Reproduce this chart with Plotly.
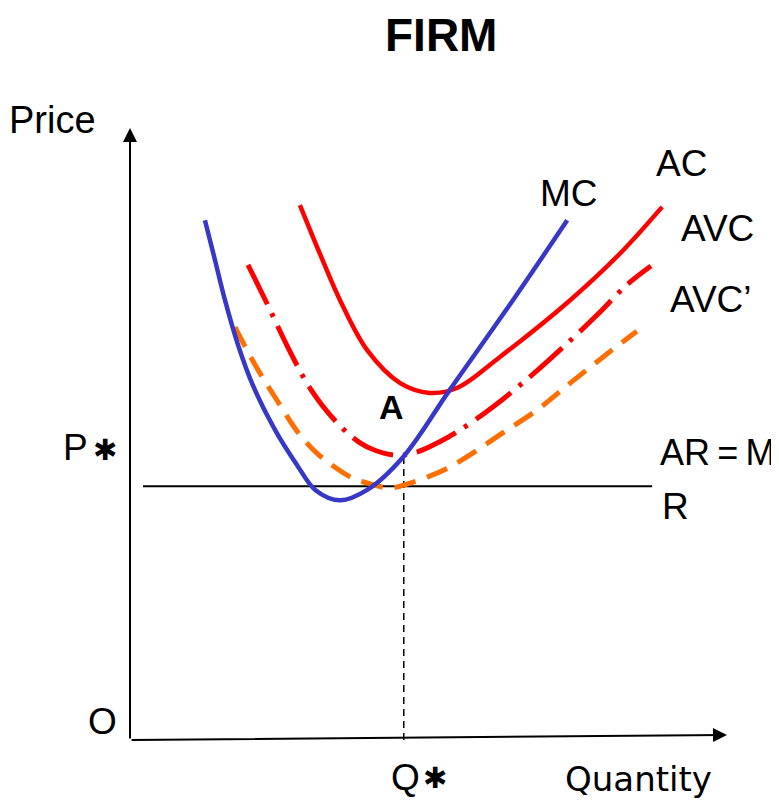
import plotly.graph_objects as go

# ---- data (quantity, price) ----
mc_q = [1.27, 1.44, 1.61, 1.83, 2.08, 2.46, 2.83, 3.14, 3.56, 4.02, 4.63, 5.42, 6.49, 7.41]
mc_p = [8.52, 7.87, 7.21, 6.48, 5.82, 5.08, 4.51, 4.10, 3.93, 4.10, 4.64, 5.74, 7.21, 8.52]

ac_q = [2.88, 3.25, 3.56, 4.02, 4.58, 5.08, 5.54, 6.27, 7.46, 8.31, 9.02]
ac_p = [8.77, 7.90, 7.21, 6.39, 5.85, 5.69, 5.77, 6.28, 7.21, 7.98, 8.74]

avc_q = [2.00, 2.32, 2.68, 3.05, 3.51, 3.90, 4.15, 4.51, 4.86, 5.25, 5.59, 6.15, 6.81, 7.34, 7.92, 8.42, 8.83]
avc_p = [7.79, 7.16, 6.43, 5.77, 5.20, 4.87, 4.75, 4.67, 4.72, 4.89, 5.08, 5.46, 5.98, 6.44, 6.97, 7.46, 7.77]

avc2_q = [1.78, 2.12, 2.49, 2.88, 3.17, 3.42, 3.76, 4.07, 4.41, 4.71, 5.04, 5.39, 5.71, 6.31, 6.90, 7.46, 8.02, 8.59]
avc2_p = [6.77, 6.15, 5.57, 5.00, 4.70, 4.51, 4.30, 4.20, 4.13, 4.20, 4.31, 4.46, 4.64, 5.03, 5.41, 5.85, 6.28, 6.70]

ar_q = [0.22, 8.85]
ar_p = [4.16, 4.16]

q_star = 4.64
p_at_qstar = 4.67

FONT = "Liberation Sans, Arial, sans-serif"
BLUE = "rgb(55,55,200)"
RED = "rgb(255,0,0)"
ORANGE = "rgb(255,110,0)"

fig = go.Figure()

fig.add_trace(go.Scatter(x=ar_q, y=ar_p, mode="lines",
                         line=dict(color="black", width=2)))
fig.add_trace(go.Scatter(x=[q_star, q_star], y=[0, p_at_qstar], mode="lines",
                         line=dict(color="black", width=1.5, dash="7px,5px")))
fig.add_trace(go.Scatter(x=avc2_q, y=avc2_p, mode="lines", line_shape="spline",
                         line=dict(color=ORANGE, width=5, dash="22px,12px")))
fig.add_trace(go.Scatter(x=avc_q, y=avc_p, mode="lines", line_shape="spline",
                         line=dict(color=RED, width=5, dash="44px,10px,4px,10px")))
fig.add_trace(go.Scatter(x=ac_q, y=ac_p, mode="lines", line_shape="spline",
                         line=dict(color=RED, width=4.5)))
fig.add_trace(go.Scatter(x=mc_q, y=mc_p, mode="lines", line_shape="spline",
                         line=dict(color=BLUE, width=4.5)))

# page pixel -> data scale (layout only)
X0, XS = 130, 59.0
Y0, YS = 740, 61.0
OFF = 8  # page body margin
def qx(px):
    return (px - X0) / XS
def py(pyv):
    return (Y0 - pyv) / YS

ann = []
# axes with arrowheads
ann.append(dict(x=0, y=py(128), ax=0, ay=0, xref="x", yref="y", axref="x", ayref="y",
                text="", showarrow=True, arrowhead=2, arrowsize=1.4, arrowwidth=2,
                arrowcolor="black", standoff=0))
ann.append(dict(x=qx(727), y=py(735), ax=0, ay=0, xref="x", yref="y", axref="x", ayref="y",
                text="", showarrow=True, arrowhead=2, arrowsize=1.4, arrowwidth=2,
                arrowcolor="black", standoff=0))

def label(text, px, pyv, anchor="center", size=36, bold=False, family=FONT, vanchor="middle"):
    t = f"<b>{text}</b>" if bold else text
    ann.append(dict(x=qx(px), y=py(pyv), xref="x", yref="y", text=t, showarrow=False,
                    xanchor=anchor, yanchor=vanchor, borderpad=0,
                    font=dict(family=family, size=size, color="black")))

label("FIRM", 441, 8, size=46, bold=True, vanchor="top")
label("Price", 8, 120, anchor="left", size=38)
label("MC", 569, 193, size=37)
label("AC", 681, 163, size=37)
label("AVC", 717, 228, size=37)
label("AVC’", 711, 299, size=37)
label("A", 391, 407, size=34, bold=True)
label("P", 62, 447, anchor="left", size=37)
label("✱", 105, 450, size=29, family="DejaVu Sans")
label("AR\u2009=\u2009M", 776, 452, anchor="right", size=36)
label("R", 661, 506, anchor="left", size=37)
label("O", 102, 721, size=37)
label("Q", 390, 777, anchor="left", size=37)
label("✱", 435, 778, size=29, family="DejaVu Sans")
label("Quantity", 638, 779, size=34, family="DejaVu Sans")

fig.update_layout(
    width=779, height=801,
    margin=dict(l=0, r=0, t=0, b=0),
    paper_bgcolor="white", plot_bgcolor="white",
    showlegend=False,
    xaxis=dict(range=[qx(OFF), qx(779 + OFF)], visible=False, fixedrange=True),
    yaxis=dict(range=[py(801 + OFF), py(OFF)], visible=False, fixedrange=True),
    annotations=ann,
)

fig.write_html("out.html")
